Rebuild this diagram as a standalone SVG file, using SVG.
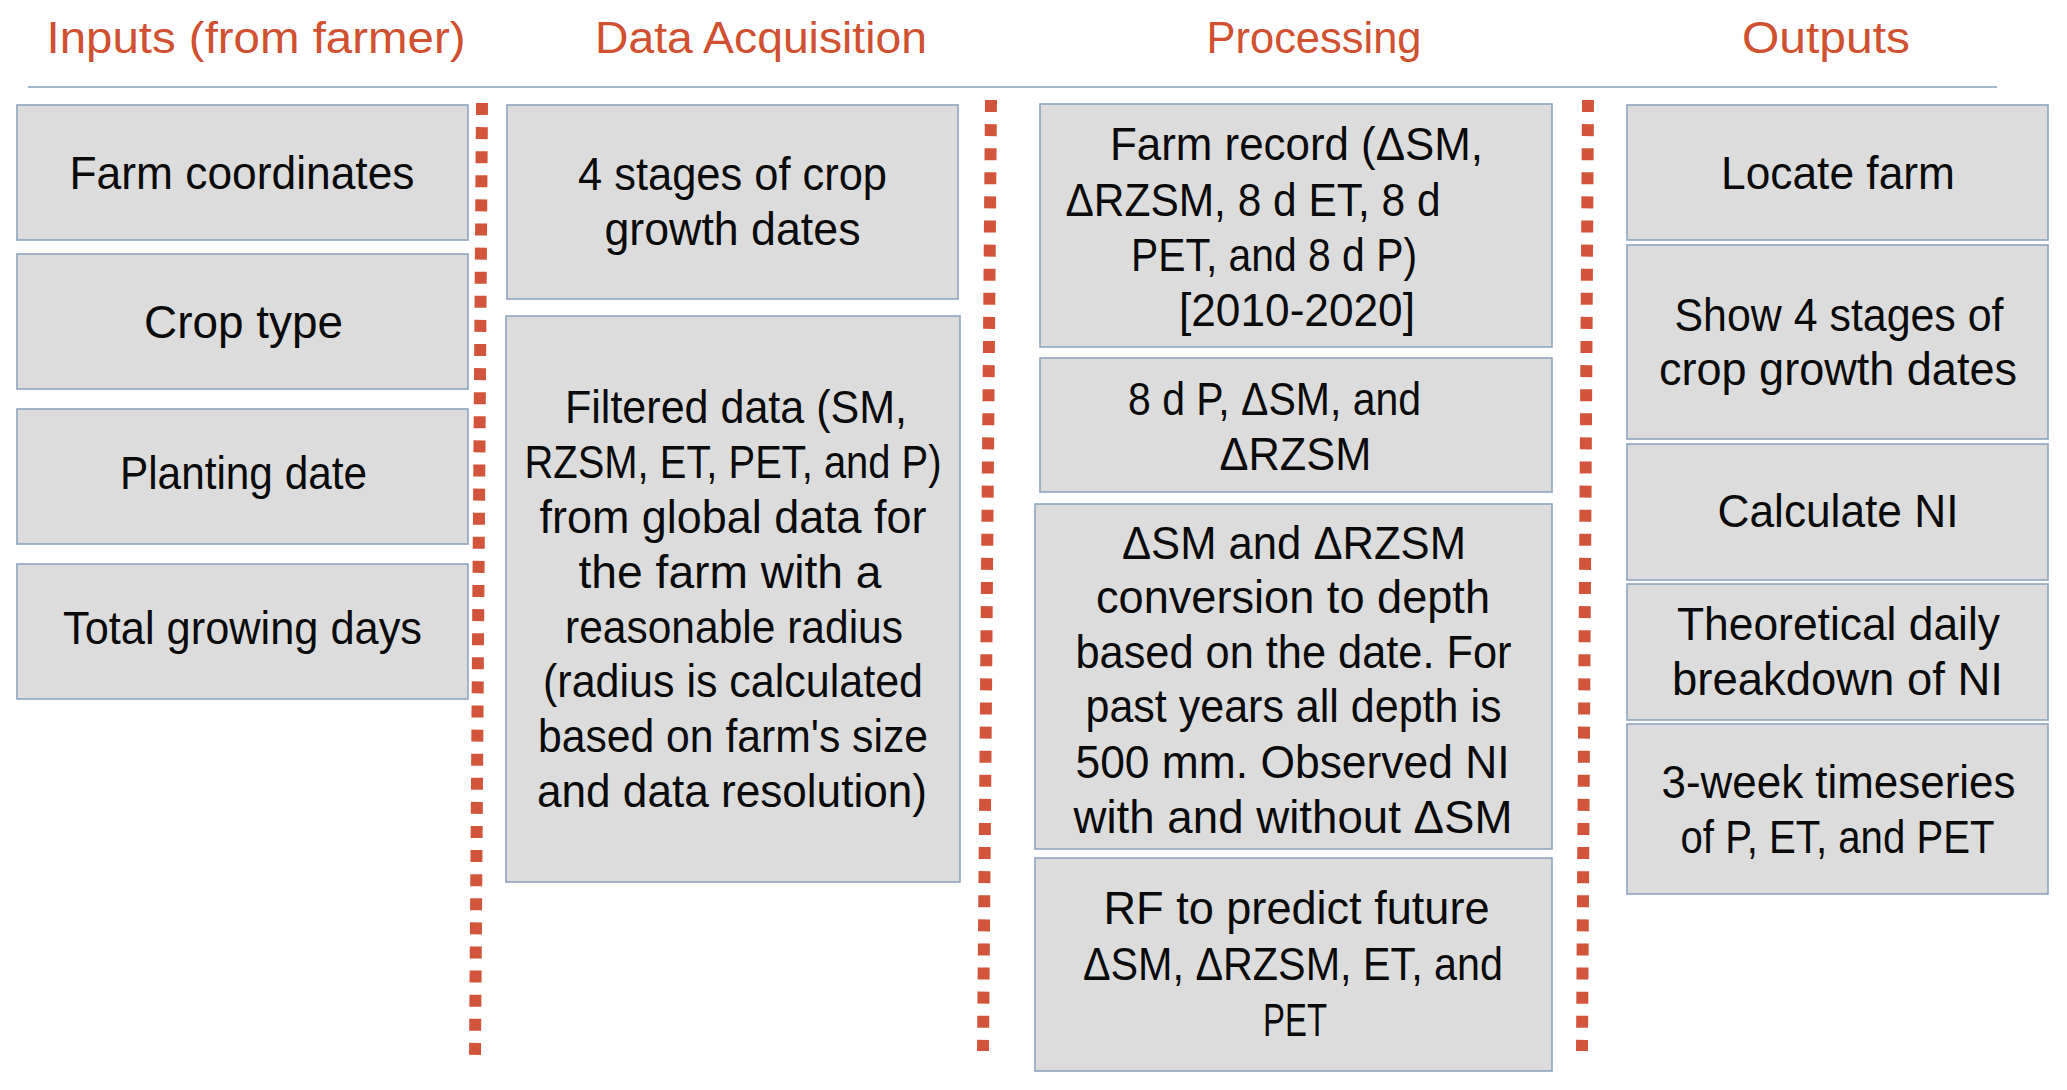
<svg xmlns="http://www.w3.org/2000/svg" width="2067" height="1090" viewBox="0 0 2067 1090">
<style>
  .bg{fill:#ffffff}
  .box{fill:#DCDCDC;stroke:#8EA5C0;stroke-width:1.6}
  .t{font-family:"Liberation Sans",Arial,sans-serif;font-size:46px;fill:#0a0a0a;text-anchor:middle}
  .title{font-family:"Liberation Sans",Arial,sans-serif;font-size:44px;fill:#D0502F;text-anchor:middle}
  .rule{stroke:#A3B7CD;stroke-width:2;fill:none}
  .sep{stroke:#D2553B;stroke-width:12;stroke-dasharray:12 12.1;fill:none}
</style>
<rect class="bg" x="0" y="0" width="2067" height="1090"/>

<g id="titles">
  <text class="title" x="256" y="53" textLength="419" lengthAdjust="spacingAndGlyphs">Inputs (from farmer)</text>
  <text class="title" x="761" y="53" textLength="332" lengthAdjust="spacingAndGlyphs">Data Acquisition</text>
  <text class="title" x="1314" y="53" textLength="215" lengthAdjust="spacingAndGlyphs">Processing</text>
  <text class="title" x="1826" y="53" textLength="168" lengthAdjust="spacingAndGlyphs">Outputs</text>
</g>

<g id="separators">
  <line class="rule" x1="28" y1="87" x2="1997" y2="87"/>
  <line class="sep" x1="482" y1="103" x2="475" y2="1055"/>
  <line class="sep" x1="991" y1="100" x2="983" y2="1051"/>
  <line class="sep" x1="1588" y1="100" x2="1582" y2="1051"/>
</g>

<g id="farm-coordinates">
  <rect class="box" x="17" y="105" width="451" height="135"/>
  <text class="t" x="242" y="189" textLength="345" lengthAdjust="spacingAndGlyphs">Farm coordinates</text>
</g>
<g id="crop-type">
  <rect class="box" x="17" y="254" width="451" height="135"/>
  <text class="t" x="243.5" y="338" textLength="199" lengthAdjust="spacingAndGlyphs">Crop type</text>
</g>
<g id="planting-date">
  <rect class="box" x="17" y="409" width="451" height="135"/>
  <text class="t" x="243.5" y="489" textLength="247" lengthAdjust="spacingAndGlyphs">Planting date</text>
</g>
<g id="total-growing-days">
  <rect class="box" x="17" y="564" width="451" height="135"/>
  <text class="t" x="242.5" y="644" textLength="359" lengthAdjust="spacingAndGlyphs">Total growing days</text>
</g>

<g id="crop-stages">
  <rect class="box" x="507" y="105" width="451" height="194"/>
  <text class="t" x="732.5" y="190" textLength="309" lengthAdjust="spacingAndGlyphs">4 stages of crop</text>
  <text class="t" x="732.5" y="245" textLength="256" lengthAdjust="spacingAndGlyphs">growth dates</text>
</g>
<g id="filtered-data">
  <rect class="box" x="506" y="316" width="454" height="566"/>
  <text class="t" x="736" y="423" textLength="342" lengthAdjust="spacingAndGlyphs">Filtered data (SM,</text>
  <text class="t" x="733" y="478" textLength="417" lengthAdjust="spacingAndGlyphs">RZSM, ET, PET, and P)</text>
  <text class="t" x="733" y="533" textLength="387" lengthAdjust="spacingAndGlyphs">from global data for</text>
  <text class="t" x="730" y="588" textLength="303" lengthAdjust="spacingAndGlyphs">the farm with a</text>
  <text class="t" x="734" y="643" textLength="338" lengthAdjust="spacingAndGlyphs">reasonable radius</text>
  <text class="t" x="733" y="697" textLength="380" lengthAdjust="spacingAndGlyphs">(radius is calculated</text>
  <text class="t" x="733" y="752" textLength="390" lengthAdjust="spacingAndGlyphs">based on farm's size</text>
  <text class="t" x="732" y="807" textLength="390" lengthAdjust="spacingAndGlyphs">and data resolution)</text>
</g>

<g id="farm-record">
  <rect class="box" x="1040" y="104" width="512" height="243"/>
  <text class="t" x="1296.5" y="160" textLength="373" lengthAdjust="spacingAndGlyphs">Farm record (ΔSM,</text>
  <text class="t" x="1253" y="216" textLength="375" lengthAdjust="spacingAndGlyphs">ΔRZSM, 8 d ET, 8 d</text>
  <text class="t" x="1274" y="271" textLength="286" lengthAdjust="spacingAndGlyphs">PET, and 8 d P)</text>
  <text class="t" x="1297" y="326" textLength="236" lengthAdjust="spacingAndGlyphs">[2010-2020]</text>
</g>
<g id="p-sm-rzsm">
  <rect class="box" x="1040" y="358" width="512" height="134"/>
  <text class="t" x="1274.5" y="415" textLength="293" lengthAdjust="spacingAndGlyphs">8 d P, ΔSM, and</text>
  <text class="t" x="1295.5" y="470" textLength="152" lengthAdjust="spacingAndGlyphs">ΔRZSM</text>
</g>
<g id="depth-conversion">
  <rect class="box" x="1035" y="504" width="517" height="345"/>
  <text class="t" x="1294" y="559" textLength="344" lengthAdjust="spacingAndGlyphs">ΔSM and ΔRZSM</text>
  <text class="t" x="1293" y="613" textLength="394" lengthAdjust="spacingAndGlyphs">conversion to depth</text>
  <text class="t" x="1293.5" y="668" textLength="436" lengthAdjust="spacingAndGlyphs">based on the date. For</text>
  <text class="t" x="1293.5" y="722" textLength="416" lengthAdjust="spacingAndGlyphs">past years all depth is</text>
  <text class="t" x="1292.5" y="778" textLength="434" lengthAdjust="spacingAndGlyphs">500 mm. Observed NI</text>
  <text class="t" x="1293" y="833" textLength="439" lengthAdjust="spacingAndGlyphs">with and without ΔSM</text>
</g>
<g id="rf-predict">
  <rect class="box" x="1035" y="858" width="517" height="213"/>
  <text class="t" x="1296.5" y="924" textLength="386" lengthAdjust="spacingAndGlyphs">RF to predict future</text>
  <text class="t" x="1293" y="980" textLength="420" lengthAdjust="spacingAndGlyphs">ΔSM, ΔRZSM, ET, and</text>
  <text class="t" x="1295" y="1036" textLength="64" lengthAdjust="spacingAndGlyphs">PET</text>
</g>

<g id="locate-farm">
  <rect class="box" x="1627" y="105" width="421" height="135"/>
  <text class="t" x="1838" y="189" textLength="234" lengthAdjust="spacingAndGlyphs">Locate farm</text>
</g>
<g id="show-stages">
  <rect class="box" x="1627" y="245" width="421" height="194"/>
  <text class="t" x="1839" y="331" textLength="329" lengthAdjust="spacingAndGlyphs">Show 4 stages of</text>
  <text class="t" x="1838" y="385" textLength="358" lengthAdjust="spacingAndGlyphs">crop growth dates</text>
</g>
<g id="calculate-ni">
  <rect class="box" x="1627" y="444" width="421" height="136"/>
  <text class="t" x="1838" y="527" textLength="241" lengthAdjust="spacingAndGlyphs">Calculate NI</text>
</g>
<g id="daily-breakdown">
  <rect class="box" x="1627" y="584" width="421" height="136"/>
  <text class="t" x="1838.5" y="640" textLength="323" lengthAdjust="spacingAndGlyphs">Theoretical daily</text>
  <text class="t" x="1837.5" y="695" textLength="331" lengthAdjust="spacingAndGlyphs">breakdown of NI</text>
</g>
<g id="timeseries">
  <rect class="box" x="1627" y="724" width="421" height="170"/>
  <text class="t" x="1838.5" y="798" textLength="354" lengthAdjust="spacingAndGlyphs">3-week timeseries</text>
  <text class="t" x="1837.5" y="853" textLength="314" lengthAdjust="spacingAndGlyphs">of P, ET, and PET</text>
</g>
</svg>
